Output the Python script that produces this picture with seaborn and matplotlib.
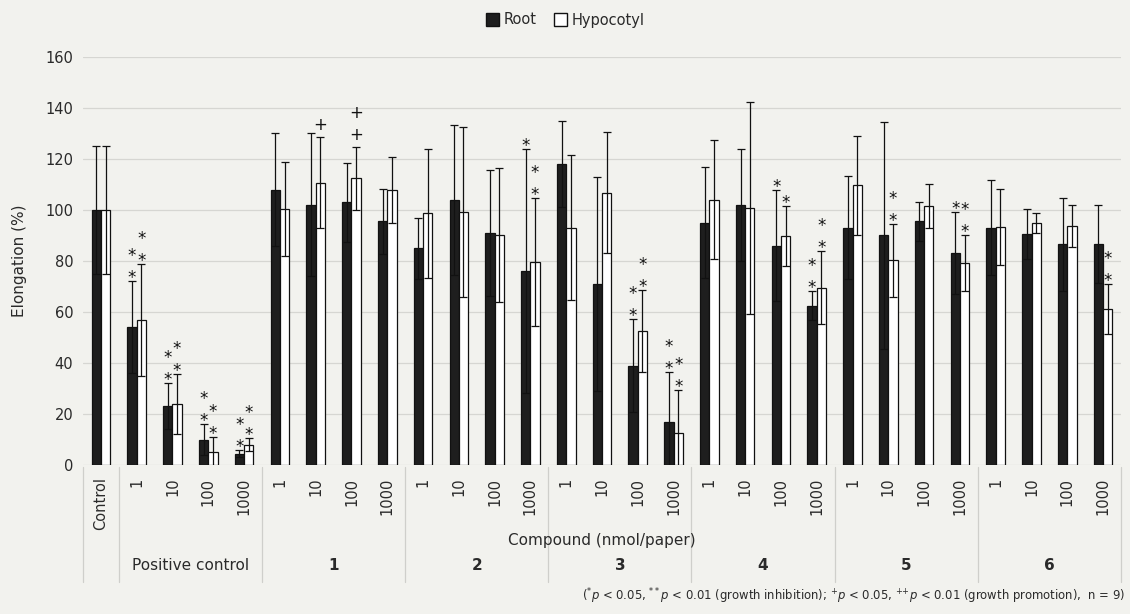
import matplotlib
matplotlib.use("Agg")
import matplotlib.pyplot as plt
import seaborn as sns
import pandas as pd
from matplotlib.patches import Patch
from matplotlib.lines import Line2D
from matplotlib.transforms import blended_transform_factory

# ---------------- data ----------------
tick_labels = ["Control"] + ["1", "10", "100", "1000"] * 7
group_labels = ["Positive control", "1", "2", "3", "4", "5", "6"]

root = [100, 54, 23, 10, 4.5,
        108, 102, 103, 95.5,
        85, 104, 91, 76,
        118, 71, 39, 17,
        95, 102, 86, 62.5,
        93, 90, 95.5, 83,
        93, 90.5, 86.5, 86.5]
root_err = [25, 18, 9, 6, 1.5,
            22, 28, 15.5, 12.8,
            12, 29.3, 24.6, 47.8,
            16.8, 41.9, 18.3, 19.5,
            21.7, 22.1, 21.8, 5.7,
            20.2, 44.5, 7.7, 16.1,
            18.6, 9.7, 18.3, 15.3]
hypocotyl = [100, 57, 24, 5, 8,
             100.5, 110.7, 112.5, 107.8,
             98.7, 99.1, 90.3, 79.7,
             93.1, 106.8, 52.4, 12.7,
             104, 100.7, 89.7, 69.5,
             109.7, 80.3, 101.6, 79.2,
             93.3, 94.8, 93.6, 61.3]
hypocotyl_err = [25, 22, 11.7, 6, 2.5,
                 18.4, 17.8, 12.4, 13,
                 25.3, 33.3, 26.2, 25,
                 28.5, 23.7, 16.1, 16.6,
                 23.4, 41.5, 11.8, 14.3,
                 19.5, 14.3, 8.5, 11,
                 15, 4, 8.2, 9.8]
root_sig = ["", "**", "**", "**", "**",
            "", "", "", "",
            "", "", "", "*",
            "", "", "**", "**",
            "", "", "*", "**",
            "", "", "", "*",
            "", "", "", ""]
hypocotyl_sig = ["", "**", "**", "**", "**",
                 "", "+", "++", "",
                 "", "", "", "**",
                 "", "", "**", "**",
                 "", "", "*", "**",
                 "", "**", "", "**",
                 "", "", "", "**"]

# ---------------- style ----------------
sns.set_theme(style="white")
plt.rcParams['font.family'] = ['DejaVu Sans']
BG = '#f2f2ee'
TXT = '#2a2a2a'

fig = plt.figure(figsize=(11.3, 6.14), dpi=100, facecolor=BG)
ax = fig.add_axes([83 / 1130, 1 - 465 / 614, 1038 / 1130, 408 / 614])
ax.set_facecolor(BG)

keys = [f"c{i}" for i in range(len(tick_labels))]
df = pd.DataFrame({
    "key": keys * 2,
    "value": root + hypocotyl,
    "tissue": ["Root"] * len(keys) + ["Hypocotyl"] * len(keys),
})
sns.barplot(data=df, x="key", y="value", hue="tissue", order=keys,
            hue_order=["Root", "Hypocotyl"],
            palette={"Root": "#1e1e1e", "Hypocotyl": "white"},
            edgecolor="#111111", linewidth=0.9, width=0.52,
            errorbar=None, legend=False, ax=ax, zorder=2)

for cont, vals, errs, sigs in [(ax.containers[0], root, root_err, root_sig),
                               (ax.containers[1], hypocotyl, hypocotyl_err, hypocotyl_sig)]:
    xs = [p.get_x() + p.get_width() / 2 for p in cont.patches]
    ax.errorbar(xs, vals, yerr=errs, fmt='none', ecolor='#111111',
                elinewidth=0.9, capsize=2.8, capthick=0.9, zorder=3)
    for x, v, e, s in zip(xs, vals, errs, sigs):
        for k, ch in enumerate(s):
            base = -2 if ch == '*' else 7
            ax.annotate(ch, (x, v + e), xytext=(0, base + 22 * k),
                        textcoords='offset pixels', ha='center', va='baseline',
                        fontsize=12, color='#111111', zorder=4)

ax.set_ylim(0, 160)
ax.set_xlim(-0.5, len(keys) - 0.5)
ax.set_yticks(range(0, 161, 20))
ax.yaxis.grid(True, color='#d6d6d2', linewidth=0.9)
ax.set_axisbelow(True)
for sp in ax.spines.values():
    sp.set_visible(False)
ax.tick_params(axis='y', length=0, pad=7, labelsize=10.5, labelcolor=TXT)
ax.set_xticks(range(len(keys)))
ax.set_xticklabels(tick_labels, rotation=90, fontsize=10.5, color=TXT)
ax.tick_params(axis='x', length=0, pad=9)
ax.set_xlabel("")
ax.set_ylabel("Elongation (%)", fontsize=11, color=TXT, labelpad=13)

# category table below axis
tr = blended_transform_factory(ax.transData, ax.transAxes)
def ya(px):
    return (465 - px) / 408

bounds = [-0.5, 0.5, 4.5, 8.5, 12.5, 16.5, 20.5, 24.5, 28.5]
for b in bounds:
    ax.add_line(Line2D([b, b], [ya(467), ya(582)], transform=tr, color='#cfcfcb',
                       linewidth=0.9, clip_on=False))

for g, lab in enumerate(group_labels):
    cx = 1 + 4 * g + 1.5
    ax.text(cx, ya(566), lab, transform=tr, ha='center', va='center',
            fontsize=11, color=TXT,
            fontweight='normal' if g == 0 else 'bold')

ax.text(0.5, ya(541), "Compound (nmol/paper)", transform=ax.transAxes,
        ha='center', va='center', fontsize=11, color=TXT)

# legend
handles = [Patch(facecolor='#1e1e1e', edgecolor='#111111', label='Root'),
           Patch(facecolor='white', edgecolor='#111111', label='Hypocotyl')]
fig.legend(handles=handles, loc='center', bbox_to_anchor=(565 / 1130, 1 - 20 / 614),
           ncol=2, frameon=False, fontsize=10.5, handlelength=0.9, handleheight=0.9,
           handletextpad=0.3, columnspacing=1.2, labelcolor=TXT)

# footnote
footnote = (r"($^{*}$$\it{p}$ < 0.05, $^{**}$$\it{p}$ < 0.01 (growth inhibition); "
            r"$^{+}$$\it{p}$ < 0.05, $^{{+}{+}}$$\it{p}$ < 0.01 (growth promotion),  n = 9)")
fig.text(1125 / 1130, 1 - 596 / 614, footnote,
         ha='right', va='center', fontsize=8.4, color=TXT)

fig.savefig("out.png", dpi=100, facecolor=BG)
